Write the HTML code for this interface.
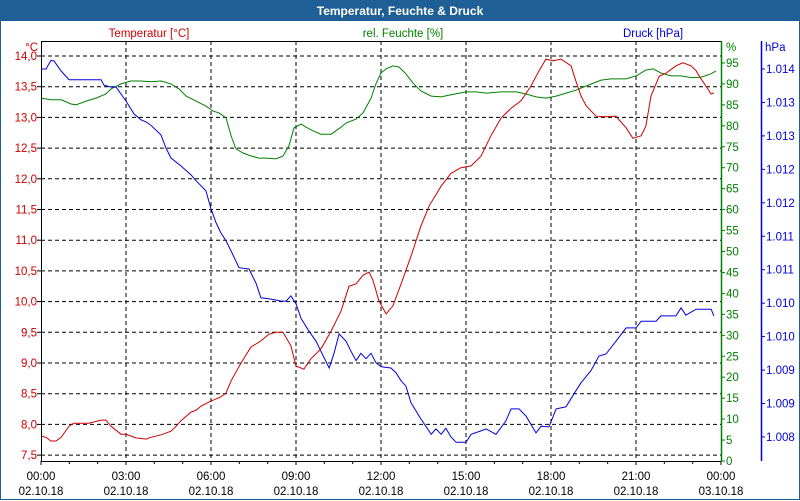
<!DOCTYPE html>
<html><head><meta charset="utf-8"><style>
body{margin:0;background:#fff}
#wrap{position:relative;width:798px;height:498px;border:1px solid #1f5f96;font-family:"Liberation Sans",sans-serif;}
#title{position:absolute;left:0;top:0;width:798px;height:20px;background:#1f5f96;color:#fff;font-weight:bold;font-size:12px;text-align:center;line-height:20px}
svg{position:absolute;left:0;top:0}
</style></head><body>
<div id="wrap">
<div id="title">Temperatur, Feuchte &amp; Druck</div>
<svg id="c" width="800" height="500" font-family="Liberation Sans, sans-serif" font-size="11.5"></svg>
</div>
<script>
const tempTicks=[14.0,13.5,13.0,12.5,12.0,11.5,11.0,10.5,10.0,9.5,9.0,8.5,8.0,7.5];
const humTicks=[0,5,10,15,20,25,30,35,40,45,50,55,60,65,70,75,80,85,90,95];
const presTicks=[1014.0,1013.5,1013.0,1012.5,1012.0,1011.5,1011.0,1010.5,1010.0,1009.5,1009.0,1008.5];
const presLabels=["1.014","1.013","1.013","1.012","1.012","1.011","1.011","1.010","1.010","1.009","1.009","1.008"];
const timeTicks=[0,3,6,9,12,15,18,21,24];
const timeLabels=["00:00","03:00","06:00","09:00","12:00","15:00","18:00","21:00","00:00"];
const dateLabels=["02.10.18","02.10.18","02.10.18","02.10.18","02.10.18","02.10.18","02.10.18","02.10.18","03.10.18"];

const presT=[0,.18,.35,.46,.71,.99,1.06,2.12,2.22,2.47,2.65,3.0,3.28,3.53,3.71,3.88,4.24,4.41,4.59,4.94,5.29,5.47,5.82,6.0,6.18,6.35,6.53,6.71,6.99,7.34,7.59,7.76,8.12,8.47,8.65,8.82,9.0,9.18,9.46,9.71,9.95,10.17,10.34,10.52,10.77,10.94,11.12,11.29,11.47,11.65,11.82,12.0,12.35,12.53,12.71,12.88,13.06,13.41,13.77,13.94,14.12,14.29,14.47,14.65,15.0,15.18,15.53,15.71,16.06,16.41,16.59,16.87,17.12,17.47,17.65,17.93,18.18,18.53,18.88,19.06,19.41,19.69,19.94,20.29,20.65,21.0,21.18,21.71,21.88,22.41,22.59,22.76,23.12,23.65,23.75];
const presV=[1014.0,1014.0,1014.13,1014.12,1013.97,1013.84,1013.84,1013.84,1013.76,1013.73,1013.73,1013.52,1013.33,1013.24,1013.21,1013.16,1013.01,1012.82,1012.67,1012.55,1012.42,1012.33,1012.18,1011.91,1011.70,1011.55,1011.43,1011.28,1011.03,1011.01,1010.80,1010.58,1010.56,1010.53,1010.53,1010.61,1010.49,1010.27,1010.08,1009.93,1009.72,1009.53,1009.75,1010.04,1009.93,1009.78,1009.64,1009.75,1009.67,1009.75,1009.61,1009.55,1009.53,1009.46,1009.34,1009.26,1009.01,1008.77,1008.54,1008.62,1008.54,1008.63,1008.50,1008.42,1008.42,1008.54,1008.59,1008.62,1008.54,1008.74,1008.92,1008.92,1008.81,1008.56,1008.66,1008.65,1008.92,1008.95,1009.19,1009.31,1009.49,1009.71,1009.74,1009.93,1010.13,1010.13,1010.23,1010.23,1010.31,1010.31,1010.43,1010.32,1010.41,1010.41,1010.31];

const tempT=[0,.18,.35,.53,.71,.99,1.16,1.41,1.69,2.12,2.29,2.47,2.82,3.0,3.35,3.71,3.88,4.24,4.59,4.77,4.94,5.29,5.47,5.65,6.0,6.35,6.53,6.71,7.06,7.41,7.76,8.05,8.29,8.54,8.82,9.0,9.28,9.53,9.88,10.24,10.59,10.87,11.12,11.37,11.58,11.72,11.93,12.18,12.42,12.71,13.06,13.41,13.70,14.12,14.47,14.82,15.18,15.53,15.88,16.24,16.59,16.94,17.29,17.58,17.82,18.07,18.35,18.71,18.88,19.06,19.24,19.59,19.94,20.29,20.65,20.89,21.18,21.35,21.53,21.82,22.06,22.41,22.66,22.94,23.12,23.29,23.47,23.65,23.75];
const tempV=[7.81,7.79,7.73,7.73,7.79,7.97,8.02,8.02,8.02,8.07,8.07,7.97,7.84,7.84,7.78,7.76,7.79,7.83,7.89,7.97,8.06,8.20,8.23,8.30,8.38,8.45,8.51,8.71,9.0,9.26,9.36,9.47,9.50,9.50,9.28,8.95,8.90,9.07,9.23,9.52,9.85,10.25,10.29,10.43,10.48,10.34,10.01,9.80,9.93,10.29,10.74,11.23,11.56,11.88,12.09,12.18,12.21,12.37,12.70,12.99,13.15,13.27,13.51,13.76,13.95,13.92,13.95,13.84,13.59,13.35,13.19,13.02,13.01,13.02,12.83,12.66,12.70,12.86,13.35,13.67,13.72,13.84,13.89,13.84,13.76,13.63,13.51,13.38,13.40];

const humT=[0,.35,.71,1.06,1.24,1.59,1.94,2.29,2.47,2.82,3.18,3.53,3.88,4.24,4.59,4.87,5.12,5.47,5.82,6.07,6.28,6.53,6.71,6.88,7.13,7.41,7.69,7.94,8.29,8.54,8.75,8.93,9.18,9.35,9.60,9.88,10.24,10.59,10.77,11.12,11.37,11.65,11.82,12.0,12.18,12.42,12.64,12.88,13.13,13.41,13.77,14.12,14.47,15.0,15.35,15.71,16.24,16.77,17.12,17.47,17.82,18.18,18.53,18.88,19.24,19.77,20.12,20.65,21.0,21.35,21.60,21.88,22.24,22.59,22.94,23.29,23.65,23.82];
const humV=[86.6,86.2,86.2,85.2,85.0,85.9,86.6,87.6,88.8,90.0,90.7,90.7,90.5,90.7,90.0,88.8,87.1,85.9,84.7,83.5,83.1,81.9,77.6,74.5,73.5,72.8,72.3,72.3,72.1,72.8,75.2,79.5,80.4,79.7,78.8,78.0,78.0,79.7,80.7,81.6,83.1,86.6,90.0,92.6,93.6,94.3,94.0,92.4,90.2,88.3,87.1,86.9,87.4,88.1,88.1,87.8,88.1,88.1,87.6,86.9,86.6,87.1,87.8,88.5,89.5,90.9,91.2,91.2,91.9,93.3,93.6,92.6,91.9,91.9,91.5,91.6,92.4,93.1];

const NS='http://www.w3.org/2000/svg';
const svg=document.getElementById('c');
const X0=40,X1=720,Y0=40,YB=460;
const xS=h=>X0+h*(X1-X0)/24;
const yT=v=>55+(14-v)/0.5*30.7;
const yH=v=>460-v*4.19;
const yP=v=>68+(1014-v)/0.5*33.45;
function mk(tag,attrs,parent){const e=document.createElementNS(NS,tag);for(const k in attrs)e.setAttribute(k,attrs[k]);(parent||svg).appendChild(e);return e;}
function txt(s,x,y,fill,anchor){const t=mk('text',{x:x,y:y,fill:fill,'text-anchor':anchor||'start'});t.textContent=s;return t;}

tempTicks.forEach(v=>{const l=mk('line',{x1:X0,x2:X1,y1:yT(v),y2:yT(v),stroke:'#000','stroke-dasharray':'4,3','stroke-width':1});

});
timeTicks.forEach(h=>{if(h===0||h===24)return;const l=mk('line',{x1:xS(h),x2:xS(h),y1:Y0,y2:YB,stroke:'#000','stroke-dasharray':'4,3'});

});
let a=mk('line',{x1:X0,x2:X1,y1:Y0+0.5,y2:Y0+0.5,stroke:'#000'});

a=mk('line',{x1:X0+0.5,x2:X0+0.5,y1:Y0,y2:YB,stroke:'#000'});

a=mk('line',{x1:X0,x2:X1,y1:YB+0.5,y2:YB+0.5,stroke:'#000'});

a=mk('line',{x1:X1+0.5,x2:X1+0.5,y1:Y0,y2:YB,stroke:'#008000','stroke-width':1.5});

a=mk('line',{x1:760.5,x2:760.5,y1:Y0,y2:YB,stroke:'#0000dd','stroke-width':1.5});


tempTicks.forEach(v=>{mk('line',{x1:36,x2:40,y1:yT(v),y2:yT(v),stroke:'#000'});
const t=txt(v.toFixed(1).replace('.',','),36,yT(v)+4,'#cc0000','end');
});
humTicks.forEach(v=>{mk('line',{x1:720,x2:724,y1:yH(v),y2:yH(v),stroke:'#008000'});
const t=txt(String(v),725,yH(v)+4,'#008000');
});
presTicks.forEach((v,i)=>{mk('line',{x1:760,x2:764,y1:yP(v),y2:yP(v),stroke:'#0000dd'});
const t=txt(presLabels[i],765,yP(v)+4,'#0000dd');
});
for(let h=0;h<=24;h++){mk('line',{x1:xS(h),x2:xS(h),y1:YB,y2:YB+(h%3===0?4:3),stroke:'#000'});}
timeTicks.forEach((h,i)=>{let t=txt(timeLabels[i],xS(h),479,'#000','middle');

t=txt(dateLabels[i],xS(h),494,'#000','middle');
});

let t=txt('°C',37,50,'#cc0000','end');
t=txt('%',725,50,'#008000');
t=txt('hPa',764,50,'#0000dd');
t=txt('Temperatur [°C]',148,36,'#cc0000','middle');
t=txt('rel. Feuchte [%]',402,36,'#008000','middle');
t=txt('Druck [hPa]',652,36,'#0000dd','middle');

function line(ts,vs,yf,col){return mk('polyline',{points:ts.map((h,i)=>xS(h).toFixed(1)+','+yf(vs[i]).toFixed(1)).join(' '),fill:'none',stroke:col,'stroke-width':1});}
let p=line(humT,humV,yH,'#008000');
p=line(presT,presV,yP,'#0000dd');
p=line(tempT,tempV,yT,'#cc0000');
</script>
</body></html>
